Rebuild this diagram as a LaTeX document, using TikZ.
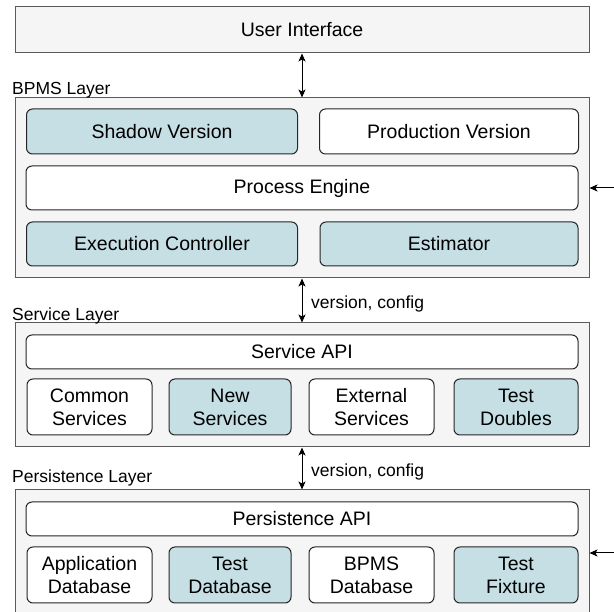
\documentclass[tikz,border=0pt]{standalone}
\usepackage{fontspec}
\setmainfont{Liberation Sans}
\usetikzlibrary{arrows.meta,positioning}
\definecolor{layerfill}{HTML}{F5F5F5}
\definecolor{layerline}{HTML}{5A5A5A}
\definecolor{partblue}{RGB}{197,223,229}

\begin{document}
\begin{tikzpicture}[x=1pt,y=-1pt]%
    \path[use as bounding box,clip] (0,0) rectangle (614,612);
    \tikzstyle{layer}=[draw=layerline,fill=layerfill,line width=1pt,inner sep=0pt,font=\fontsize{19.5}{23}\selectfont]
    \tikzstyle{part}=[draw=black!85,fill=white,rounded corners=6pt,line width=1pt,inner sep=0pt,align=center,font=\fontsize{19.5}{23}\selectfont]
    \tikzstyle{newpart}=[part,fill=partblue]
    \tikzstyle{caption}=[anchor=base west,inner sep=0pt,font=\fontsize{17.5}{20}\selectfont]
    \tikzstyle{link}=[line width=1pt,{Stealth[length=8pt,width=7pt,inset=2pt]}-{Stealth[length=8pt,width=7pt,inset=2pt]}]
    \tikzstyle{feed}=[line width=1pt,-{Stealth[length=8pt,width=7pt,inset=2pt]}]
    % top
    \node[layer,minimum width=574,minimum height=46] (ui) at (302,30) {User Interface};
    % BPMS layer
    \node[layer,minimum width=574,minimum height=180] (bpms) at (302,188) {};
    \node[caption] (bpmslbl) at (12,95) {BPMS Layer};
    \node[newpart,minimum width=271,minimum height=45] (shadow) at (162,131.5) {Shadow Version};
    \node[part,minimum width=259,minimum height=45] (prod) at (449,131.5) {Production Version};
    \node[part,minimum width=552,minimum height=44] (engine) at (302,188) {Process Engine};
    \node[newpart,minimum width=271,minimum height=44] (exec) at (162,244) {Execution Controller};
    \node[newpart,minimum width=258,minimum height=44] (estim) at (449,244) {Estimator};
    % service layer
    \node[layer,minimum width=574,minimum height=124] (service) at (302,385) {};
    \node[caption] (srvlbl) at (12,321) {Service Layer};
    \node[part,minimum width=552,minimum height=34] (sapi) at (302,352) {Service API};
    \node[part,minimum width=125,minimum height=56] (common) at (89.5,407) {Common\\Services};
    \node[newpart,minimum width=122,minimum height=56] (newsrv) at (230,407) {New\\Services};
    \node[part,minimum width=125,minimum height=56] (extsrv) at (371.5,407) {External\\Services};
    \node[newpart,minimum width=124,minimum height=56] (doubles) at (516,407) {Test\\Doubles};
    % persistence layer
    \node[layer,minimum width=574,minimum height=140] (persist) at (302,560) {};
    \node[caption] (perslbl) at (12,483) {Persistence Layer};
    \node[part,minimum width=552,minimum height=34] (papi) at (302,519) {Persistence API};
    \node[part,minimum width=125,minimum height=56] (appdb) at (89.5,575) {Application\\Database};
    \node[newpart,minimum width=122,minimum height=56] (testdb) at (230,575) {Test\\Database};
    \node[part,minimum width=125,minimum height=56] (bpmsdb) at (371.5,575) {BPMS\\Database};
    \node[newpart,minimum width=124,minimum height=56] (fixture) at (516,575) {Test\\Fixture};
    % connectors
    \draw[link] (ui) -- (bpms);
    \draw[link] (bpms) -- (service);
    \draw[link] (service) -- (persist);
    \node[caption] (cfg1) at (311,309) {version, config};
    \node[caption] (cfg2) at (311,477) {version, config};
    \coordinate (bin) at (614,188);
    \coordinate (pin) at (614,553);
    \draw[feed] (bin) -- (bin -| bpms.east);
    \draw[feed] (pin) -- (pin -| persist.east);
\end{tikzpicture}
\end{document}
